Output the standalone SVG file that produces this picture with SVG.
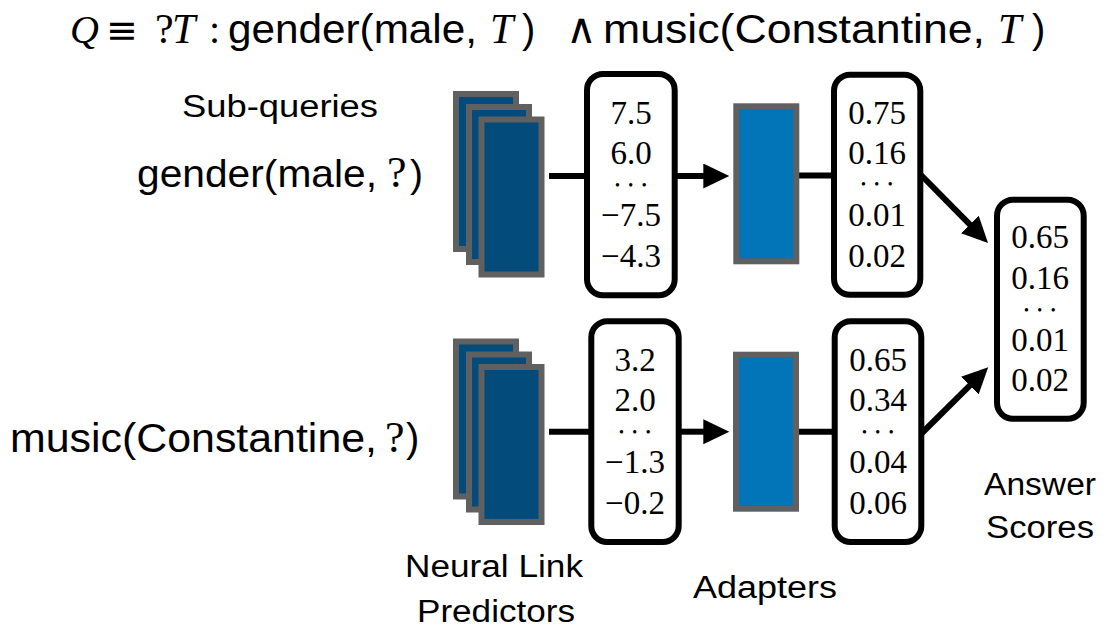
<svg xmlns="http://www.w3.org/2000/svg" width="1108" height="632" viewBox="0 0 1108 632">
<style>
.sans{font-family:"Liberation Sans",Arial,sans-serif;fill:#000}
.serif{font-family:"Liberation Serif","DejaVu Serif",serif;fill:#000}
.sym{font-family:"DejaVu Sans",sans-serif;fill:#000}
.it{font-style:italic}
.num{font-family:"Liberation Serif","DejaVu Serif",serif;font-size:33px;text-anchor:middle;fill:#000}
.dots{font-family:"Liberation Serif","DejaVu Serif",serif;font-size:14px;text-anchor:middle;letter-spacing:8.5px;fill:#000}
.box{fill:#fff;stroke:#000;stroke-width:6}
.nlp{fill:#034b7b;stroke:#606060;stroke-width:6}
.adp{fill:#0274b8;stroke:#606060;stroke-width:6}
.conn{stroke:#000;stroke-width:6;fill:none}
.arr{marker-end:url(#ah)}
</style>
<defs>
<marker id="ah" markerUnits="userSpaceOnUse" viewBox="0 0 28 26" markerWidth="28" markerHeight="26" refX="2" refY="12.5" orient="auto">
<path d="M0,0 L26,12.5 L0,25 z" fill="#000"/>
</marker>
</defs>
<rect width="1108" height="632" fill="#fff"/>

<g id="title">
<text class="serif it" x="70" y="43" font-size="40">Q</text>
<text class="sym" x="106" y="43" font-size="38">≡</text>
<text class="serif" x="155" y="43" font-size="42">?</text>
<text class="serif it" x="172" y="43" font-size="42">T</text>
<text class="serif" x="209" y="43" font-size="40">:</text>
<text class="sans" x="228" y="43" font-size="40" textLength="249" lengthAdjust="spacingAndGlyphs">gender(male,</text>
<text class="serif it" x="490" y="43" font-size="42">T</text>
<text class="sans" x="522" y="43" font-size="40">)</text>
<text class="sym" x="566" y="43" font-size="42">∧</text>
<text class="sans" x="603" y="43" font-size="40" textLength="382" lengthAdjust="spacingAndGlyphs">music(Constantine,</text>
<text class="serif it" x="998" y="43" font-size="42">T</text>
<text class="sans" x="1032" y="43" font-size="40">)</text>
</g>

<g id="label-subqueries">
<text class="sans" x="182" y="117" font-size="31" textLength="196" lengthAdjust="spacingAndGlyphs">Sub-queries</text>
</g>
<g id="label-gender">
<text class="sans" x="137" y="187" font-size="39" textLength="240" lengthAdjust="spacingAndGlyphs">gender(male,</text>
<text class="serif" x="387" y="187" font-size="44">?</text>
<text class="sans" x="410" y="187" font-size="39">)</text>
</g>
<g id="label-music">
<text class="sans" x="10" y="452" font-size="40" textLength="367" lengthAdjust="spacingAndGlyphs">music(Constantine,</text>
<text class="serif" x="385" y="452" font-size="44">?</text>
<text class="sans" x="406" y="452" font-size="40">)</text>
</g>

<g id="connectors">
<path class="conn" d="M549,176 H587"/>
<path class="conn arr" d="M675,176 H705.3"/>
<path class="conn" d="M796,175.5 H834"/>
<path class="conn arr" d="M921,175 L971.2,225.9"/>
<path class="conn" d="M549,431.7 H591"/>
<path class="conn arr" d="M678,431.7 H705.3"/>
<path class="conn" d="M796,431.7 H835"/>
<path class="conn arr" d="M922,433 L971.2,384.1"/>
</g>

<g id="nlp-top">
<rect class="nlp" x="456" y="94" width="60" height="155"/>
<rect class="nlp" x="469" y="107" width="60" height="155"/>
<rect class="nlp" x="481.5" y="119.5" width="60" height="155"/>
</g>
<g id="nlp-bottom">
<rect class="nlp" x="456" y="341.5" width="60" height="155"/>
<rect class="nlp" x="469" y="354.5" width="60" height="155"/>
<rect class="nlp" x="481.5" y="367" width="60" height="155"/>
</g>

<g id="emb-top">
<rect class="box" x="587" y="74" width="87.7" height="221.3" rx="16"/>
<text class="num" x="631" y="123.7">7.5</text>
<text class="num" x="631" y="164.2">6.0</text>
<text class="dots" x="635" y="190">•••</text>
<text class="num" x="631" y="226.2">−7.5</text>
<text class="num" x="631" y="266.7">−4.3</text>
</g>
<g id="emb-bottom">
<rect class="box" x="591.3" y="321.3" width="87.4" height="220.7" rx="16"/>
<text class="num" x="635" y="370.7">3.2</text>
<text class="num" x="635" y="411.2">2.0</text>
<text class="dots" x="639" y="436.5">•••</text>
<text class="num" x="635" y="473.2">−1.3</text>
<text class="num" x="635" y="513.7">−0.2</text>
</g>

<g id="adapter-top">
<rect class="adp" x="736.3" y="106.3" width="60" height="155"/>
</g>
<g id="adapter-bottom">
<rect class="adp" x="736" y="354.7" width="60" height="154"/>
</g>

<g id="score-top">
<rect class="box" x="834" y="74.7" width="86.3" height="220" rx="16"/>
<text class="num" x="877" y="123.7">0.75</text>
<text class="num" x="877" y="164.2">0.16</text>
<text class="dots" x="881" y="188.5">•••</text>
<text class="num" x="877" y="226.2">0.01</text>
<text class="num" x="877" y="266.7">0.02</text>
</g>
<g id="score-bottom">
<rect class="box" x="834.7" y="321.3" width="86.6" height="220.7" rx="16"/>
<text class="num" x="878" y="370.7">0.65</text>
<text class="num" x="878" y="411.2">0.34</text>
<text class="dots" x="882" y="436.5">•••</text>
<text class="num" x="878" y="473.2">0.04</text>
<text class="num" x="878" y="513.7">0.06</text>
</g>

<g id="answer">
<rect class="box" x="997" y="199.7" width="86.7" height="219" rx="16"/>
<text class="num" x="1040" y="248.2">0.65</text>
<text class="num" x="1040" y="288.7">0.16</text>
<text class="dots" x="1044" y="314.5">•••</text>
<text class="num" x="1040" y="350.7">0.01</text>
<text class="num" x="1040" y="391.2">0.02</text>
</g>

<g id="label-nlp">
<text class="sans" x="405" y="577" font-size="31" textLength="178" lengthAdjust="spacingAndGlyphs">Neural Link</text>
<text class="sans" x="417" y="622" font-size="31" textLength="158" lengthAdjust="spacingAndGlyphs">Predictors</text>
</g>
<g id="label-adapters">
<text class="sans" x="693" y="598" font-size="31" textLength="144" lengthAdjust="spacingAndGlyphs">Adapters</text>
</g>
<g id="label-answer">
<text class="sans" x="984" y="495" font-size="31" textLength="112" lengthAdjust="spacingAndGlyphs">Answer</text>
<text class="sans" x="986" y="538" font-size="31" textLength="108" lengthAdjust="spacingAndGlyphs">Scores</text>
</g>
</svg>
